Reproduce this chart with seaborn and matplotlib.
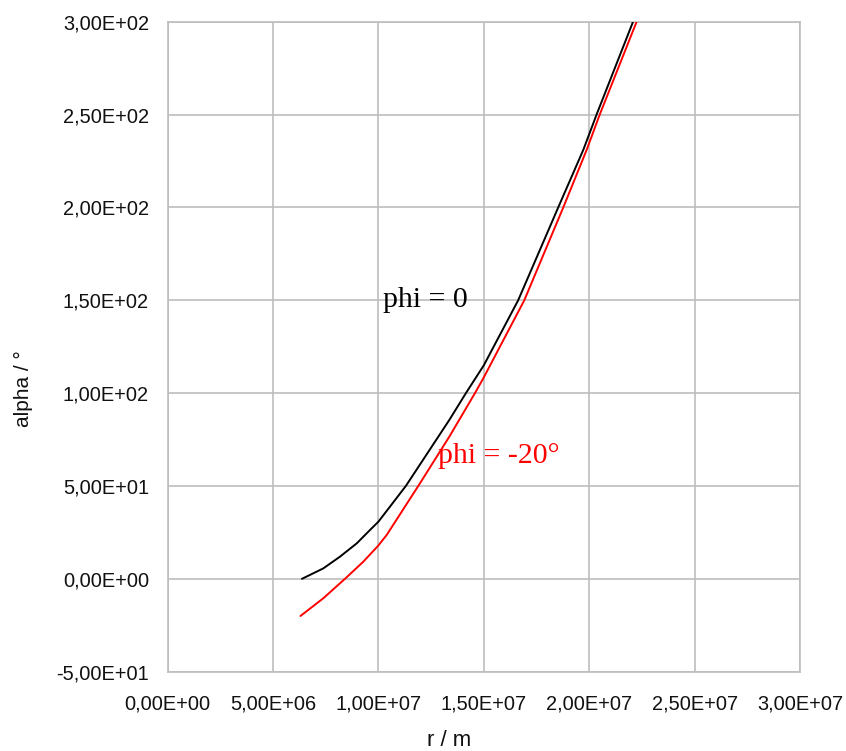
import matplotlib
matplotlib.use("Agg")
import matplotlib.pyplot as plt
from matplotlib.ticker import FuncFormatter
import seaborn as sns
import pandas as pd

# Radius r (m) and angle alpha (degrees) for the two latitudes
r_phi0 = [6.37e6, 7.38e6, 8.17e6, 8.97e6, 9.60e6, 1.00e7, 1.13e7, 1.336e7,
          1.415e7, 1.50e7, 1.663e7, 1.853e7, 1.972e7, 2.035e7, 2.208e7]
alpha_phi0 = [0.0, 5.6, 11.9, 19.1, 26.3, 30.8, 50.0, 85.5,
              100.0, 115.0, 150.0, 200.0, 231.0, 250.0, 300.0]

r_phi20 = [6.30e6, 7.38e6, 8.41e6, 9.28e6, 1.00e7, 1.039e7, 1.189e7, 1.336e7,
           1.458e7, 1.50e7, 1.692e7, 1.877e7, 1.988e7, 2.050e7, 2.225e7]
alpha_phi20 = [-20.0, -10.5, 0.0, 9.2, 18.0, 23.6, 50.0, 76.5,
               100.0, 108.5, 150.0, 200.0, 231.0, 250.0, 300.0]

x_ticks = [0, 5e6, 1e7, 1.5e7, 2e7, 2.5e7, 3e7]
y_ticks = [-50, 0, 50, 100, 150, 200, 250, 300]

sns.set_style("white")
plt.rcParams["font.family"] = ["Liberation Sans", "DejaVu Sans"]

df = pd.concat([
    pd.DataFrame({"r": r_phi0, "alpha": alpha_phi0, "series": "phi = 0"}),
    pd.DataFrame({"r": r_phi20, "alpha": alpha_phi20, "series": "phi = -20°"}),
])

fig = plt.figure(figsize=(8.46, 7.51), dpi=100)
ax = fig.add_axes([0.1982, 0.1056, 0.7474, 0.8655])

sns.lineplot(data=df, x="r", y="alpha", hue="series", sort=False,
             palette={"phi = 0": "#000000", "phi = -20°": "#ff0000"},
             linewidth=1.4, legend=False, ax=ax, zorder=3)

grid_col = "#bdbdbd"
ax.set_xlim(0, 3e7)
ax.set_ylim(-50, 300)
ax.set_xticks(x_ticks)
ax.set_yticks(y_ticks)
ax.grid(True, color=grid_col, linewidth=1.2)
for sp in ax.spines.values():
    sp.set_color(grid_col)
    sp.set_linewidth(1.2)

fmt = FuncFormatter(lambda v, pos: f"{v:.2E}".replace(".", ","))
ax.xaxis.set_major_formatter(fmt)
ax.yaxis.set_major_formatter(fmt)
ax.tick_params(axis="both", which="major", length=8.5, width=1.2,
               color=grid_col, labelsize=14.4, labelcolor="#111111")
ax.tick_params(axis="x", pad=8)
ax.tick_params(axis="y", pad=5)

ax.set_xlabel("r / m", fontsize=16, color="#111111")
ax.set_ylabel("alpha / °", fontsize=15, color="#111111")
ax.xaxis.set_label_coords(0.445, -0.090)
ax.yaxis.set_label_coords(-0.213, 0.435)

ax.text(1.021e7, 146.2, "phi = 0", family=["Liberation Serif", "DejaVu Serif"],
        fontsize=21.5, color="#000000", ha="left", va="baseline", zorder=4)
ax.text(1.282e7, 62.5, "phi = -20°", family=["Liberation Serif", "DejaVu Serif"],
        fontsize=21.5, color="#ff0000", ha="left", va="baseline", zorder=4)

fig.savefig("out.png", dpi=100, facecolor="white")
